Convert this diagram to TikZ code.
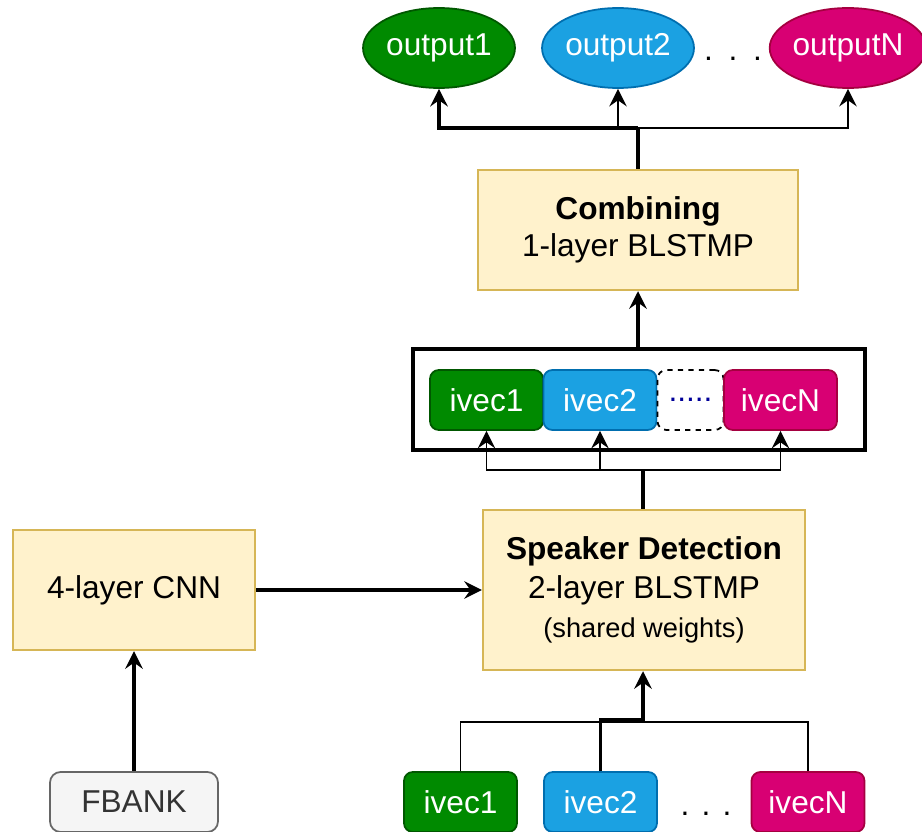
\documentclass[tikz,border=0pt]{standalone}
\usepackage{fontspec}
\setmainfont{Liberation Sans}
\usetikzlibrary{positioning,calc}
\usetikzlibrary{shapes.geometric, arrows.meta}
\definecolor{grnfill}{HTML}{008A00}
\definecolor{grnline}{HTML}{005700}
\definecolor{bluefill}{HTML}{1BA1E2}
\definecolor{blueline}{HTML}{006EAF}
\definecolor{magfill}{HTML}{D80073}
\definecolor{magline}{HTML}{A50040}
\definecolor{yelfill}{HTML}{FFF2CC}
\definecolor{yelline}{HTML}{D6B656}
\definecolor{gryfill}{HTML}{F5F5F5}
\definecolor{gryline}{HTML}{666666}
\tikzset{
  txt/.style={font=\fontsize{18}{21}\selectfont},
  outg/.style={ellipse, minimum width=3.04cm, minimum height=1.6cm, inner sep=0pt, text centered, txt, text=white, draw=grnline, fill=grnfill, line width=1pt},
  outb/.style={outg, draw=blueline, fill=bluefill},
  outm/.style={outg, draw=magline, fill=magfill},
  ivg/.style={rectangle, rounded corners=5pt, minimum width=2.26cm, minimum height=1.2cm, inner sep=0pt, text centered, txt, text=white, draw=grnline, fill=grnfill, line width=1pt},
  ivb/.style={ivg, draw=blueline, fill=bluefill},
  ivm/.style={ivg, draw=magline, fill=magfill},
  ivd/.style={ivg, minimum width=1.32cm, draw=black, fill=white, dashed, text=blue!60!black},
  blk/.style={rectangle, minimum width=6.4cm, minimum height=2.4cm, inner sep=0pt, align=center, txt, draw=yelline, fill=yelfill, line width=1.4pt},
  inp/.style={rectangle, rounded corners=6pt, minimum width=3.36cm, minimum height=1.2cm, inner sep=0pt, text centered, txt, text=black!80, draw=gryline, fill=gryfill, line width=1pt},
  grp/.style={rectangle, minimum width=9.04cm, minimum height=2.02cm, inner sep=0pt, draw=black, line width=1.8pt},
  >={Stealth[length=10pt,width=10pt,inset=3.5pt]},
  fat/.style={line width=1.8pt},
  slim/.style={line width=1pt}
}

\begin{document}
\begin{tikzpicture}[x=0.02cm, y=-0.02cm]
	\useasboundingbox (0,0) rectangle (922,831);
	\clip (0,0) rectangle (922,831);
	% outputs
	\node[outg] (out1) at (439,48) {output1};
	\node[outb] (out2) at (618,48) {output2};
	\node[outm] (outN) at (848,48) {outputN};
	\node[txt, anchor=base] (odots) at (733,61) {.\hspace{9pt}.\hspace{9pt}.};
	% blocks
	\node[blk] (comb) at (638,230) {\textbf{Combining}\\1-layer BLSTMP};
	\node[grp] (grp) at (639,399.5) {};
	\node[ivg] (iv1) at (486.5,400) {ivec1};
	\node[ivb] (iv2) at (600,400) {ivec2};
	\node[ivd] (ivdots) at (690.5,400) {.....};
	\node[ivm] (ivN) at (780.5,400) {ivecN};
	\node[blk, minimum width=6.44cm, minimum height=3.2cm] (sd) at (644,590) {\textbf{Speaker Detection}\\[1pt]2-layer BLSTMP\\[1pt]{\fontsize{15.5}{19}\selectfont(shared weights)}};
	\node[blk, minimum width=4.84cm] (cnn) at (134,590) {4-layer CNN};
	% inputs
	\node[inp] (fbank) at (134,802) {FBANK};
	\node[ivg] (in1) at (460.5,802) {ivec1};
	\node[ivb] (in2) at (600.5,802) {ivec2};
	\node[ivm] (inN) at (808,802) {ivecN};
	\node[txt, anchor=base] (idots) at (706,815) {.\hspace{7pt}.\hspace{7pt}.};
	%
	\coordinate (topjoin) at (638,128);
	\coordinate (midjoin) at (643,470);
	\coordinate (botjoin) at (643,722);
	\draw[fat] (comb.north) -- (topjoin);
	\draw[fat,->] (topjoin) -| (out1.south);
	\draw[slim,->] (topjoin) -| (out2.south);
	\draw[slim,->] (topjoin) -| (outN.south);
	\draw[fat,->] (comb.south |- grp.north) -- (comb.south);
	\draw[fat] (sd.north -| midjoin) -- (midjoin);
	\draw[slim,->] (midjoin) -| (iv1.south);
	\draw[slim,->] (midjoin) -| (iv2.south);
	\draw[slim,->] (midjoin) -| (ivN.south);
	\draw[fat,->] (cnn.east) -- (sd.west);
	\draw[fat,->] (fbank.north) -- (cnn.south);
	\draw[slim] (in1.north) |- (botjoin);
	\draw[slim] (inN.north) |- (botjoin);
	\draw[fat] (in2.north) |- ([yshift=0.04cm]botjoin);
	\draw[fat,->] (botjoin) -- (sd.south -| botjoin);
\end{tikzpicture}
\end{document}
